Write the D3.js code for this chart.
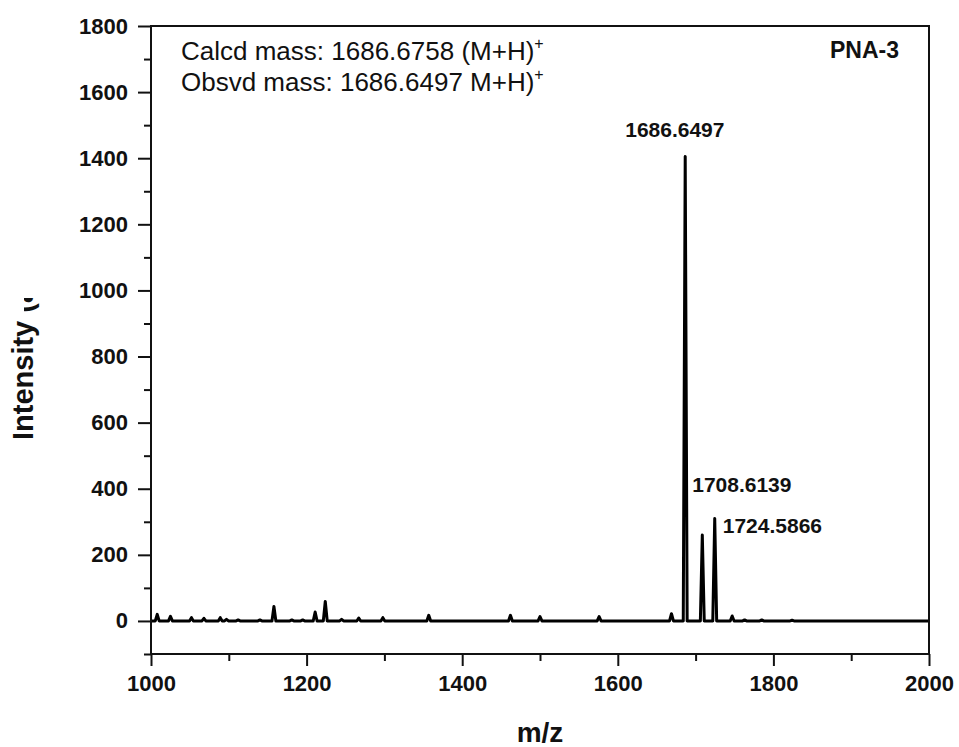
<!DOCTYPE html>
<html>
<head>
<meta charset="utf-8">
<script src="https://cdn.jsdelivr.net/npm/d3@7"></script>
<style>
  html, body { margin: 0; padding: 0; background: #fff; }
  svg { display: block; }
  text { font-family: "Liberation Sans", Arial, Helvetica, sans-serif; fill: #111; }
</style>
</head>
<body>
<svg id="chart" width="959" height="747"></svg>
<script>
// Mass spectrum of PNA-3 (MALDI, m/z 1000-2000)
const peakMz = [1008, 1025, 1052, 1068, 1089, 1097, 1112, 1140, 1158, 1181, 1195, 1211, 1224,
                1245, 1267, 1298, 1357, 1462, 1500, 1576, 1669,
                1686.6497, 1708.6139, 1724.5866, 1747, 1763, 1785, 1824];
const peakIntensity = [20, 14, 10, 8, 10, 5, 3, 3, 44, 3, 3, 27, 59,
                       5, 9, 10, 17, 17, 13, 13, 22,
                       1405, 260, 310, 15, 3, 3, 2];

// labelled peaks
const labelText = ["1686.6497", "1708.6139", "1724.5866"];

const xMajorTicks = [1000, 1200, 1400, 1600, 1800, 2000];
const xMinorTicks = [1100, 1300, 1500, 1700, 1900];
const yMajorTicks = [0, 200, 400, 600, 800, 1000, 1200, 1400, 1600, 1800];
const yMinorTicks = [-100, 100, 300, 500, 700, 900, 1100, 1300, 1500, 1700];

const annotationLines = ["Calcd mass: 1686.6758 (M+H)", "Obsvd mass: 1686.6497 M+H)"];
const sampleName = "PNA-3";

const svg = d3.select("#chart");
const M = { left: 151, right: 929, top: 26, bottom: 654 };

const x = d3.scaleLinear().domain([1000, 2000]).range([M.left, M.right]);
const y = d3.scaleLinear().domain([-100, 1800]).range([M.bottom, M.top]);

const defs = svg.append("defs");
defs.append("clipPath").attr("id", "plotClip")
  .append("rect").attr("x", M.left).attr("y", M.top)
  .attr("width", M.right - M.left).attr("height", M.bottom - M.top);

// spectrum trace: flat baseline with narrow peaks
const halfWidth = 2.5;
const pts = [[1000, 0]];
peakMz.forEach((m, i) => {
  pts.push([m - halfWidth, 0], [m, peakIntensity[i]], [m + halfWidth, 0]);
});
pts.push([2000, 0]);
const line = d3.line().x(d => x(d[0])).y(d => y(d[1]));
svg.append("path")
  .attr("clip-path", "url(#plotClip)")
  .attr("d", line(pts))
  .attr("fill", "none")
  .attr("stroke", "#000")
  .attr("stroke-width", 3)
  .attr("stroke-linejoin", "round");

// axes
const fmt = d3.format("d");
svg.append("g").attr("transform", `translate(${M.left},0)`)
  .call(d3.axisLeft(y).tickValues(yMajorTicks).tickFormat(fmt).tickSize(13).tickPadding(10));
svg.append("g").attr("transform", `translate(${M.left},0)`)
  .call(d3.axisLeft(y).tickValues(yMinorTicks).tickFormat("").tickSize(7));
svg.append("g").attr("transform", `translate(0,${M.bottom})`)
  .call(d3.axisBottom(x).tickValues(xMajorTicks).tickFormat(fmt).tickSize(12).tickPadding(9));
svg.append("g").attr("transform", `translate(0,${M.bottom})`)
  .call(d3.axisBottom(x).tickValues(xMinorTicks).tickFormat("").tickSize(7));

svg.selectAll(".domain").remove();
svg.selectAll(".tick line").attr("stroke", "#111").attr("stroke-width", 2);
svg.selectAll(".tick text")
  .style("font-size", "22px").style("font-weight", "bold")
  .style("font-family", "'Liberation Sans', Arial, sans-serif").attr("fill", "#111");

// frame
svg.append("rect")
  .attr("x", M.left).attr("y", M.top).attr("width", M.right - M.left).attr("height", M.bottom - M.top)
  .attr("fill", "none").attr("stroke", "#111").attr("stroke-width", 2);

// peak labels (the 1708 label is tucked against the main peak)
const labelAnchorMz = [1686.6497, 1686.6497, 1724.5866];
const labelDx = [-60, 7, 8];
const labelY = [136.5, 492, 532.5];
labelText.forEach((t, i) => {
  svg.append("text")
    .attr("x", x(labelAnchorMz[i]) + labelDx[i]).attr("y", labelY[i])
    .style("font-size", "21px").style("font-weight", "bold")
    .text(t);
});

// annotations
const annBase = [59.5, 90.5];
annotationLines.forEach((t, i) => {
  const tx = svg.append("text").attr("x", 181).attr("y", annBase[i])
    .style("font-size", "26px");
  tx.append("tspan").text(t);
  tx.append("tspan").attr("dy", -11).style("font-size", "16px").text("+");
});

svg.append("text").attr("x", 899).attr("y", 58)
  .attr("text-anchor", "end")
  .style("font-size", "23px").style("font-weight", "bold")
  .text(sampleName);

// axis titles
svg.append("text")
  .attr("x", (M.left + M.right) / 2).attr("y", 741.5)
  .attr("text-anchor", "middle")
  .style("font-size", "28px").style("font-weight", "bold")
  .text("m/z");

const cp = defs.append("clipPath").attr("id", "ylabClip");
cp.append("rect").attr("x", 0).attr("y", 312).attr("width", 60).attr("height", 150);
cp.append("rect").attr("x", 24).attr("y", 298).attr("width", 36).attr("height", 20);
svg.append("g").attr("clip-path", "url(#ylabClip)")
  .append("text")
  .attr("transform", "translate(33,440) rotate(-90)")
  .attr("text-anchor", "start")
  .style("font-size", "29px").style("font-weight", "bold")
  .text("Intensity (a.u.)");
</script>
</body>
</html>
